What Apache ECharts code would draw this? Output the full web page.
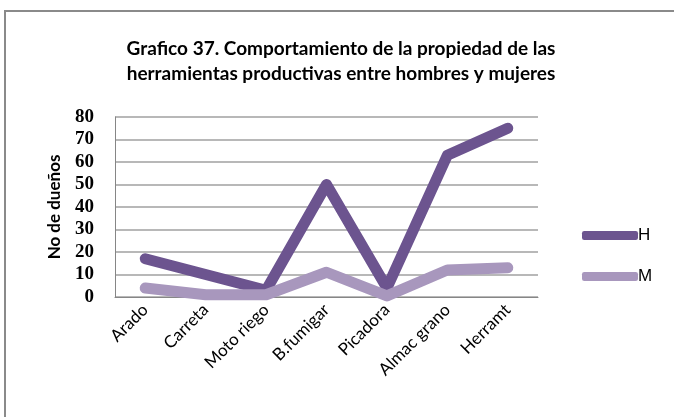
<!DOCTYPE html>
<html>
<head>
<meta charset="utf-8">
<script src="https://cdn.jsdelivr.net/npm/echarts@6/dist/echarts.min.js"></script>
<style>
  html, body { margin: 0; padding: 0; background: #fff; }
  #chart { width: 674px; height: 417px; }
</style>
</head>
<body>
<div id="chart"></div>
<script>
// Tools and number of owners by sex
const categories = ['Arado', 'Carreta', 'Moto riego', 'B.fumigar', 'Picadora', 'Almac grano', 'Herramt'];
const hombres = [17, 10, 3, 50, 4, 63, 75];
const mujeres = [4, 1, 1, 11, 0.5, 12, 13];
const yTicks = { min: 0, max: 80, interval: 10 };

const chart = echarts.init(document.getElementById('chart'));
chart.setOption({
  backgroundColor: '#fff',
  animation: false,
  graphic: [{
    type: 'rect',
    shape: { x: 5, y: 11, width: 700, height: 440 },
    style: { fill: 'none', stroke: '#8a8a8a', lineWidth: 2 },
    silent: true
  }],
  title: {
    text: 'Grafico 37. Comportamiento de la propiedad de las\nherramientas productivas entre hombres y mujeres',
    left: 336,
    textAlign: 'center',
    top: 31,
    textStyle: { fontFamily: 'Lato', fontWeight: 'bold', fontSize: 19, lineHeight: 25, color: '#000' }
  },
  legend: {
    orient: 'vertical',
    left: 577,
    top: 222,
    itemGap: 24,
    itemWidth: 56,
    itemHeight: 9,
    icon: 'roundRect',
    textStyle: { fontFamily: 'Liberation Sans', fontSize: 17, color: '#000', padding: [0, 0, 0, -5] },
    data: ['H', 'M']
  },
  grid: { left: 115, right: 136, top: 117, bottom: 120 },
  xAxis: {
    type: 'category',
    data: categories,
    boundaryGap: true,
    axisLine: { lineStyle: { color: '#868686', width: 1 } },
    axisTick: { show: false },
    axisLabel: { rotate: 45, fontFamily: 'Lato', fontSize: 17, color: '#000', margin: 10, interval: 0 }
  },
  yAxis: {
    type: 'value',
    min: yTicks.min,
    max: yTicks.max,
    interval: yTicks.interval,
    name: 'No de dueños',
    nameLocation: 'middle',
    nameGap: 52,
    nameTextStyle: { fontFamily: 'Lato', fontWeight: 'bold', fontSize: 17, color: '#000' },
    axisLine: { show: true, lineStyle: { color: '#868686', width: 1 } },
    axisTick: { show: false },
    axisLabel: { fontFamily: 'Liberation Serif', fontWeight: 'bold', fontSize: 19, color: '#000', margin: 21 },
    splitLine: { lineStyle: { color: '#a0a0a0', width: 1.5 } }
  },
  series: [
    {
      name: 'H', type: 'line', data: hombres, symbol: 'none',
      lineStyle: { width: 11, color: '#6c548f', cap: 'round', join: 'round' },
      itemStyle: { color: '#6c548f' }
    },
    {
      name: 'M', type: 'line', data: mujeres, symbol: 'none',
      lineStyle: { width: 11, color: '#a897bd', cap: 'round', join: 'round' },
      itemStyle: { color: '#a897bd' }
    }
  ]
});
</script>
</body>
</html>
